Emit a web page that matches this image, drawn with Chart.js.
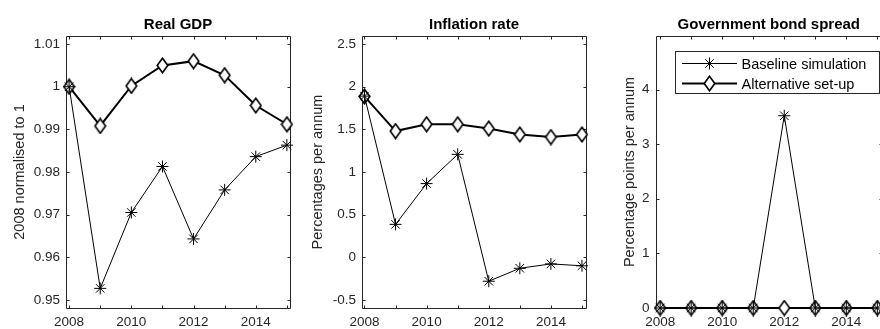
<!DOCTYPE html>
<html>
<head>
<meta charset="utf-8">
<script src="https://cdn.jsdelivr.net/npm/chart.js@4.4.1/dist/chart.umd.min.js"></script>
<style>
  html, body { margin: 0; padding: 0; background: #fff; }
  body { width: 880px; height: 329px; overflow: hidden; position: relative; }
  canvas { position: absolute; top: 0; }
</style>
</head>
<body>
<canvas id="gdp" width="300" height="329" style="left:0px"></canvas>
<canvas id="infl" width="295" height="329" style="left:300px"></canvas>
<canvas id="spread" width="300" height="329" style="left:590px"></canvas>
<script>
// --- Datos ---
const years = [2008, 2009, 2010, 2011, 2012, 2013, 2014, 2015];
const yearLabels = ['2008', '', '2010', '', '2012', '', '2014', ''];

const gdpBaseline = [1.0, 0.9527, 0.9705, 0.9813, 0.9643, 0.9758, 0.9836, 0.9863];
const gdpAlternative = [1.0, 0.9908, 1.0002, 1.0050, 1.0060, 1.0027, 0.9956, 0.9912];
const gdpTicks = [0.95, 0.96, 0.97, 0.98, 0.99, 1, 1.01];
const gdpTickLabels = ['0.95', '0.96', '0.97', '0.98', '0.99', '1', '1.01'];

const inflBaseline = [1.89, 0.386, 0.864, 1.207, -0.281, -0.129, -0.078, -0.10];
const inflAlternative = [1.886, 1.48, 1.56, 1.56, 1.51, 1.44, 1.41, 1.44];
const inflTicks = [-0.5, 0, 0.5, 1, 1.5, 2, 2.5];
const inflTickLabels = ['-0.5', '0', '0.5', '1', '1.5', '2', '2.5'];

const spreadBaseline = [0, 0, 0, 0, 3.52, 0, 0, 0];
const spreadAlternative = [0, 0, 0, 0, 0, 0, 0, 0];
const spreadTicks = [0, 1, 2, 3, 4];
const spreadTickLabels = ['0', '1', '2', '3', '4'];

const seriesNames = ['Baseline simulation', 'Alternative set-up'];

// --- Estilo ---
const AXIS = '#262626';
const FONT = '"Liberation Sans", Arial, Helvetica, sans-serif';
Chart.defaults.font.family = FONT;
Chart.defaults.color = AXIS;

// rombo tipo MATLAB (mas alto que ancho)
const diamond = document.createElement('canvas');
diamond.width = 13;
diamond.height = 17;
(function () {
    const c = diamond.getContext('2d');
    c.beginPath();
    c.moveTo(6.5, 1.2);
    c.lineTo(11.8, 8.5);
    c.lineTo(6.5, 15.8);
    c.lineTo(1.2, 8.5);
    c.closePath();
    c.fillStyle = '#fff';
    c.fill();
    c.lineWidth = 1.6;
    c.strokeStyle = '#000';
    c.stroke();
})();

const pts = arr => years.map((x, i) => ({ x: x, y: arr[i] }));

// caja y marcas hacia adentro
const boxPlugin = {
    id: 'box',
    beforeDatasetsDraw(chart) {
        const { ctx, chartArea: a, scales } = chart;
        const L = Math.round(a.left) + 0.5, R = Math.round(a.right) + 0.5;
        const T = Math.round(a.top) + 0.5, B = Math.round(a.bottom) + 0.5;
        ctx.save();
        ctx.strokeStyle = AXIS;
        ctx.lineWidth = 1;
        ctx.beginPath();
        ctx.rect(L, T, R - L, B - T);
        scales.x.ticks.forEach(t => {
            const px = Math.round(scales.x.getPixelForValue(t.value)) + 0.5;
            ctx.moveTo(px, B); ctx.lineTo(px, B - 3);
            ctx.moveTo(px, T); ctx.lineTo(px, T + 3);
        });
        scales.y.ticks.forEach(t => {
            const py = Math.round(scales.y.getPixelForValue(t.value)) + 0.5;
            ctx.moveTo(L, py); ctx.lineTo(L + 3, py);
            ctx.moveTo(R, py); ctx.lineTo(R - 3, py);
        });
        ctx.stroke();
        ctx.restore();
    }
};

const legendPlugin = {
    id: 'boxLegend',
    afterDraw(chart) {
        const ctx = chart.ctx;
        const x0 = 85.5, y0 = 51.5, w = 204, h = 42;
        ctx.save();
        ctx.fillStyle = '#fff';
        ctx.fillRect(x0, y0, w, h);
        ctx.strokeStyle = AXIS;
        ctx.lineWidth = 1;
        ctx.strokeRect(x0, y0, w, h);
        chart.data.datasets.forEach((ds, i) => {
            const y = 63.5 + i * 20;
            ctx.strokeStyle = '#000';
            ctx.lineWidth = ds.borderWidth;
            ctx.beginPath();
            ctx.moveTo(92, y);
            ctx.lineTo(147, y);
            ctx.stroke();
            if (ds.pointStyle === 'star') {
                ctx.lineWidth = 1;
                Chart.helpers.drawPoint(ctx, { pointStyle: 'star', radius: 6, borderWidth: 1, rotation: 0 }, 119.5, y);
            } else {
                ctx.drawImage(diamond, 119.5 - diamond.width / 2, y - diamond.height / 2);
            }
            ctx.fillStyle = '#000';
            ctx.font = '14.5px ' + FONT;
            ctx.textBaseline = 'middle';
            ctx.textAlign = 'left';
            ctx.fillText(ds.label, 151.5, y + 1);
        });
        ctx.restore();
    }
};

function makePanel(id, p) {
    const canvas = document.getElementById(id);
    return new Chart(canvas, {
        type: 'line',
        data: {
            datasets: [
                {
                    label: seriesNames[0],
                    data: pts(p.baseline),
                    borderColor: '#000',
                    borderWidth: 1,
                    pointStyle: 'star',
                    pointRadius: 6,
                    pointBorderColor: '#000',
                    pointBorderWidth: 1,
                    tension: 0,
                    clip: false
                },
                {
                    label: seriesNames[1],
                    data: pts(p.alternative),
                    borderColor: '#000',
                    borderWidth: 2,
                    pointStyle: diamond,
                    pointRadius: 6,
                    tension: 0,
                    clip: false
                }
            ]
        },
        options: {
            responsive: false,
            animation: false,
            events: [],
            layout: { padding: { top: 16, left: p.padLeft, right: p.padRight, bottom: 0 } },
            plugins: {
                legend: { display: false },
                tooltip: { enabled: false },
                title: {
                    display: true,
                    text: p.title,
                    fullSize: false,
                    color: '#000',
                    font: { size: 15, weight: 'bold' },
                    padding: { top: 0, bottom: 2 }
                }
            },
            scales: {
                x: {
                    type: 'linear',
                    min: p.xMin,
                    max: p.xMax,
                    grid: { display: false, drawTicks: false },
                    border: { display: false },
                    afterBuildTicks: s => { s.ticks = years.map(v => ({ value: v })); },
                    afterFit: s => { s.height = 21; },
                    ticks: {
                        autoSkip: false,
                        maxRotation: 0,
                        padding: 6,
                        font: { size: 13.5 },
                        color: AXIS,
                        callback: (v, i) => yearLabels[i]
                    }
                },
                y: {
                    min: p.yMin,
                    max: p.yMax,
                    grid: { display: false, drawTicks: false },
                    border: { display: false },
                    afterBuildTicks: s => { s.ticks = p.yTicks.map(v => ({ value: v })); },
                    afterFit: s => { s.width = p.areaLeft - p.padLeft; },
                    ticks: {
                        padding: 6,
                        font: { size: 13.5 },
                        color: AXIS,
                        callback: (v, i) => p.yLabels[i]
                    },
                    title: {
                        display: true,
                        text: p.yTitle,
                        color: AXIS,
                        font: { size: 14.5 },
                        padding: 0
                    }
                }
            }
        },
        plugins: p.legend ? [boxPlugin, legendPlugin] : [boxPlugin]
    });
}

makePanel('gdp', {
    title: 'Real GDP', yTitle: '2008 normalised to 1',
    baseline: gdpBaseline, alternative: gdpAlternative,
    yTicks: gdpTicks, yLabels: gdpTickLabels, yMin: 0.9481, yMax: 1.0119,
    xMin: 2007.9, xMax: 2015.1, padLeft: 11, padRight: 10, areaLeft: 66
});

makePanel('infl', {
    title: 'Inflation rate', yTitle: 'Percentages per annum',
    baseline: inflBaseline, alternative: inflAlternative,
    yTicks: inflTicks, yLabels: inflTickLabels, yMin: -0.595, yMax: 2.595,
    xMin: 2007.92, xMax: 2015.13, padLeft: 9, padRight: 9, areaLeft: 62
});

makePanel('spread', {
    title: 'Government bond spread', yTitle: 'Percentage points per annum',
    baseline: spreadBaseline, alternative: spreadAlternative,
    yTicks: spreadTicks, yLabels: spreadTickLabels, yMin: 0, yMax: 4.98,
    xMin: 2007.85, xMax: 2015.15, padLeft: 31, padRight: 8, areaLeft: 65.5,
    legend: true
});
</script>
</body>
</html>
